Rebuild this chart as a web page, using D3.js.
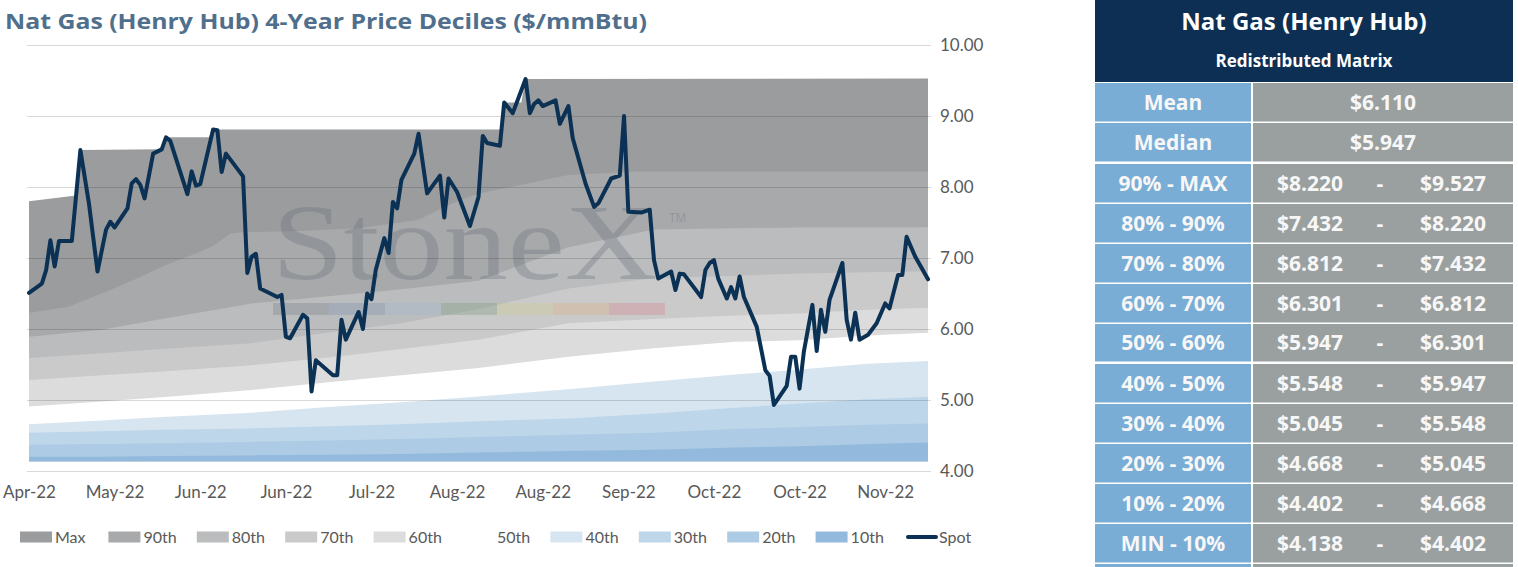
<!DOCTYPE html>
<html>
<head>
<meta charset="utf-8">
<script src="https://cdn.jsdelivr.net/npm/d3@7"></script>
<style>
  body { margin: 0; background: #fff; }
  svg { display: block; font-family: Lato, "Open Sans", sans-serif; }
</style>
</head>
<body>
<svg id="chart" width="1518" height="567"></svg>
<script>
// ---- Data ----
// x values are days since 25 Apr 2022
const startDate = new Date(Date.UTC(2022, 3, 25));
const lastDay = 210;

const xTickDays = [0, 20, 40, 60, 80, 100, 120, 140, 160, 180, 200];
const xTickLabels = ["Apr-22", "May-22", "Jun-22", "Jun-22", "Jul-22", "Aug-22", "Aug-22", "Sep-22", "Oct-22", "Oct-22", "Nov-22"];
const yTicks = [4, 5, 6, 7, 8, 9, 10];

// spot price [day, $/mmBtu]
const spot = [
  [0,6.51],[3,6.64],[4,6.83],[5,7.25],[6,6.88],[7,7.24],[10,7.24],[12,8.52],[14,7.77],[16,6.81],
  [18,7.40],[19,7.51],[20,7.43],[23,7.70],[24,8.05],[25,8.11],[26,8.03],[27,7.84],[29,8.47],[31,8.53],
  [32,8.70],[33,8.65],[37,7.90],[38,8.22],[39,8.02],[40,8.04],[43,8.81],[44,8.80],[45,8.21],[46,8.47],
  [50,8.15],[51,6.79],[52,7.02],[53,7.06],[54,6.57],[58,6.45],[59,6.48],[60,5.89],[61,5.87],[64,6.20],
  [65,6.15],[66,5.12],[67,5.56],[71,5.35],[72,5.35],[73,6.13],[74,5.85],[77,6.24],[78,6.00],[79,6.50],
  [80,6.42],[81,6.83],[83,7.28],[84,7.07],[85,7.79],[86,7.70],[87,8.10],[90,8.47],[91,8.75],[93,7.91],
  [96,8.16],[97,7.57],[98,8.12],[100,7.93],[103,7.45],[105,7.86],[106,8.72],[107,8.62],[110,8.58],[111,9.19],
  [113,9.04],[116,9.52],[117,9.04],[118,9.17],[119,9.22],[120,9.14],[123,9.22],[124,8.89],[126,9.14],[127,8.69],
  [130,8.05],[132,7.72],[133,7.77],[136,8.12],[138,8.16],[139,9.00],[140,7.65],[143,7.64],[145,7.68],[146,6.97],
  [147,6.71],[150,6.81],[151,6.55],[152,6.78],[153,6.77],[157,6.45],[158,6.83],[159,6.93],[160,6.97],[161,6.71],
  [163,6.43],[164,6.59],[165,6.43],[166,6.74],[167,6.45],[170,6.03],[172,5.42],[173,5.34],[174,4.93],[177,5.20],
  [178,5.61],[179,5.61],[180,5.16],[181,5.68],[183,6.34],[184,5.69],[185,6.27],[186,5.96],[187,6.41],[190,6.93],
  [191,6.13],[192,5.85],[193,6.23],[194,5.85],[196,5.92],[198,6.08],[200,6.36],[201,6.29],[203,6.76],[204,6.76],
  [205,7.30],[207,7.02],[210,6.70]
];

// 4-year max and 90th percentile [day, value]
const maxBand = [[0,7.80],[11,7.88],[12,8.52],[31,8.53],[32,8.70],[42,8.70],[43,8.81],[110,8.81],[111,9.19],[115,9.19],[116,9.52],[210,9.527]];
const p90Band = [[0,6.23],[9,6.31],[17,6.50],[24,6.68],[32,6.90],[40,7.09],[43,7.17],[47,7.34],[49,7.36],[63,7.38],[77,7.42],[91,7.54],[98,7.75],[105,7.91],[115,8.03],[126,8.17],[142,8.22],[210,8.22]];

// lower deciles on a shared set of days
const bandDays = [0, 17, 31, 52, 70, 87, 105, 126, 146, 165, 180, 196, 210];
const p80 = [5.89, 5.99, 6.14, 6.36, 6.46, 6.56, 6.68, 7.15, 7.40, 7.42, 7.43, 7.43, 7.432];
const p70 = [5.59, 5.66, 5.72, 5.80, 5.95, 6.08, 6.28, 6.57, 6.72, 6.75, 6.78, 6.80, 6.812];
const p60 = [5.28, 5.35, 5.40, 5.49, 5.60, 5.72, 5.85, 6.08, 6.14, 6.19, 6.22, 6.27, 6.301];
const p50 = [4.91, 4.98, 5.04, 5.14, 5.25, 5.35, 5.45, 5.61, 5.73, 5.82, 5.84, 5.91, 5.947];
const p40 = [4.66, 4.71, 4.76, 4.82, 4.90, 4.97, 5.05, 5.15, 5.26, 5.36, 5.43, 5.51, 5.548];
const p30 = [4.54, 4.56, 4.58, 4.60, 4.63, 4.66, 4.70, 4.74, 4.81, 4.89, 4.95, 5.01, 5.045];
const p20 = [4.37, 4.38, 4.39, 4.41, 4.43, 4.45, 4.48, 4.51, 4.54, 4.59, 4.62, 4.65, 4.668];
const p10 = [4.20, 4.20, 4.21, 4.22, 4.23, 4.24, 4.26, 4.28, 4.30, 4.33, 4.35, 4.38, 4.402];
const minPrice = 4.138;

// table
const statLabels = ["Mean", "Median"];
const statValues = ["$6.110", "$5.947"];
const rangeLabels = ["90% - MAX", "80% - 90%", "70% - 80%", "60% - 70%", "50% - 60%", "40% - 50%", "30% - 40%", "20% - 30%", "10% - 20%", "MIN - 10%"];
const rangeLow = ["$8.220", "$7.432", "$6.812", "$6.301", "$5.947", "$5.548", "$5.045", "$4.668", "$4.402", "$4.138"];
const rangeHigh = ["$9.527", "$8.220", "$7.432", "$6.812", "$6.301", "$5.947", "$5.548", "$5.045", "$4.668", "$4.402"];

// ---- Layout ----
const svg = d3.select("#chart");
const plot = { left: 29, right: 928, top: 45, bottom: 471 };
const toDate = d => d3.utcDay.offset(startDate, d);
const wideFont = "'Open Sans', Lato, sans-serif";

const x = d3.scaleUtc()
  .domain([startDate, toDate(lastDay)])
  .range([plot.left, plot.right]);
const y = d3.scaleLinear()
  .domain([4, 10])
  .range([plot.bottom, plot.top]);

const pairs = (days, vals) => days.map((d, i) => [d, vals[i]]);

// legend order = painting order (each layer filled from the minimum up)
const layers = [
  { key: "Max",  color: "#9b9c9e", data: maxBand },
  { key: "90th", color: "#a8a9ab", data: p90Band },
  { key: "80th", color: "#bbbcbe", data: pairs(bandDays, p80) },
  { key: "70th", color: "#cacacb", data: pairs(bandDays, p70) },
  { key: "60th", color: "#dcdcdc", data: pairs(bandDays, p60) },
  { key: "50th", color: "#ffffff", data: pairs(bandDays, p50) },
  { key: "40th", color: "#d7e5f1", data: pairs(bandDays, p40) },
  { key: "30th", color: "#bdd6e9", data: pairs(bandDays, p30) },
  { key: "20th", color: "#adcbe4", data: pairs(bandDays, p20) },
  { key: "10th", color: "#93badd", data: pairs(bandDays, p10) }
];

const area = d3.area()
  .x(d => x(toDate(d[0])))
  .y0(y(minPrice))
  .y1(d => y(d[1]));

svg.append("g").selectAll("path")
  .data(layers)
  .join("path")
  .attr("d", d => area(d.data))
  .attr("fill", d => d.color);

// watermark
const wm = svg.append("g").attr("fill", "#66707c").attr("opacity", 0.32);
wm.append("text")
  .attr("transform", "translate(272, 279) scale(1.19, 1)")
  .attr("font-family", "'Liberation Serif', 'DejaVu Serif', serif")
  .attr("font-size", 108)
  .text("StoneX");
wm.append("text")
  .attr("x", 669).attr("y", 222)
  .attr("font-size", 12)
  .attr("font-family", wideFont)
  .text("TM");
const logoColors = ["#7b838d", "#7f95ad", "#a3b9cd", "#7e9a7f", "#cfcb8a", "#dcae7e", "#d4838c"];
svg.append("g").attr("opacity", 0.35).selectAll("rect")
  .data(logoColors)
  .join("rect")
  .attr("x", (d, i) => 273 + i * 56)
  .attr("y", 303)
  .attr("width", 56)
  .attr("height", 12)
  .attr("fill", d => d);

// gridlines
svg.append("g").selectAll("line")
  .data(yTicks)
  .join("line")
  .attr("x1", plot.left - 2)
  .attr("x2", plot.right + 3)
  .attr("y1", d => y(d) + 0.5)
  .attr("y2", d => y(d) + 0.5)
  .attr("stroke", "rgba(0,0,0,0.15)")
  .attr("stroke-width", 1.2);

// spot line
const line = d3.line()
  .x(d => x(toDate(d[0])))
  .y(d => y(d[1]));

svg.append("path")
  .datum(spot)
  .attr("d", line)
  .attr("fill", "none")
  .attr("stroke", "#0b3154")
  .attr("stroke-width", 4)
  .attr("stroke-linejoin", "round")
  .attr("stroke-linecap", "round");

// axes
const yAxis = svg.append("g")
  .attr("transform", `translate(${plot.right}, 0)`)
  .call(d3.axisRight(y).tickValues(yTicks).tickFormat(d3.format(".2f")).tickSize(0).tickPadding(12));
const xAxis = svg.append("g")
  .attr("transform", `translate(0, ${plot.bottom})`)
  .call(d3.axisBottom(x)
    .tickValues(xTickDays.map(toDate))
    .tickFormat((d, i) => xTickLabels[i])
    .tickSize(0).tickPadding(15));
[xAxis, yAxis].forEach(g => {
  g.select(".domain").remove();
  g.selectAll("text")
    .attr("fill", "#595959")
    .attr("font-size", 17)
    .attr("font-family", "Lato, sans-serif");
});

// title
svg.append("text")
  .attr("x", 5).attr("y", 29)
  .attr("font-size", 21)
  .attr("font-weight", "bold")
  .attr("font-family", wideFont)
  .attr("textLength", 642)
  .attr("lengthAdjust", "spacingAndGlyphs")
  .attr("fill", "#4f6f8c")
  .text("Nat Gas (Henry Hub) 4-Year Price Deciles ($/mmBtu)");

// legend
const legendItems = layers.map(d => ({ key: d.key, color: d.color })).concat([{ key: "Spot", color: "#0b3154" }]);
const legend = svg.append("g").attr("transform", "translate(20, 537)");
const item = legend.selectAll("g")
  .data(legendItems)
  .join("g")
  .attr("transform", (d, i) => `translate(${i * 88.4}, 0)`);
item.filter(d => d.key !== "Spot").append("rect")
  .attr("x", 0).attr("y", -5.5)
  .attr("width", 32).attr("height", 11)
  .attr("fill", d => d.color);
item.filter(d => d.key === "Spot").append("line")
  .attr("x1", 4).attr("x2", 32)
  .attr("y1", 0).attr("y2", 0)
  .attr("stroke", d => d.color)
  .attr("stroke-width", 4)
  .attr("stroke-linecap", "round");
item.append("text")
  .attr("x", 35)
  .attr("dy", "0.35em")
  .attr("font-size", 16)
  .attr("fill", "#595959")
  .text(d => d.key);

// ---- Table ----
const tbl = svg.append("g").attr("transform", "translate(1095, 0)")
  .attr("font-family", wideFont);
const tblW = 418, colSplit = 156, gap = 2;
const txt = "#f7f7f7";

tbl.append("rect").attr("width", tblW).attr("height", 82).attr("fill", "#0c2f53");
tbl.append("text")
  .attr("x", tblW / 2).attr("y", 30)
  .attr("text-anchor", "middle")
  .attr("font-size", 24).attr("font-weight", "bold").attr("fill", "#fff")
  .text("Nat Gas (Henry Hub)");
tbl.append("text")
  .attr("x", tblW / 2).attr("y", 67)
  .attr("text-anchor", "middle")
  .attr("font-size", 17).attr("font-weight", "bold").attr("fill", "#fff")
  .text("Redistributed Matrix");

const rows = statLabels.map((l, i) => ({ label: l, mid: statValues[i], top: 83 + i * 40, h: 38.5 }))
  .concat(rangeLabels.map((l, i) => ({ label: l, low: rangeLow[i], high: rangeHigh[i], top: 164 + i * 40, h: i === 4 ? 37.5 : 38.5 })))
  .concat([{ label: "", top: 564, h: 10 }]);

const row = tbl.selectAll("g.row")
  .data(rows)
  .join("g")
  .attr("class", "row")
  .attr("transform", d => `translate(0, ${d.top})`);
row.append("rect")
  .attr("width", colSplit).attr("height", d => d.h)
  .attr("fill", "#7aadd5");
row.append("rect")
  .attr("x", colSplit + gap).attr("width", tblW - colSplit - gap).attr("height", d => d.h)
  .attr("fill", "#9aa09f");

const cellText = (sel, xPos, f) => sel.append("text")
  .attr("x", xPos).attr("y", d => d.h / 2)
  .attr("dy", "0.36em")
  .attr("text-anchor", "middle")
  .attr("font-size", 21).attr("font-weight", "bold").attr("fill", txt)
  .text(f);

cellText(row, colSplit / 2, d => d.label);
cellText(row.filter(d => d.mid), 288, d => d.mid);
cellText(row.filter(d => d.low), 215, d => d.low);
cellText(row.filter(d => d.low), 285, () => "-");
cellText(row.filter(d => d.high), 358, d => d.high);
</script>
</body>
</html>
